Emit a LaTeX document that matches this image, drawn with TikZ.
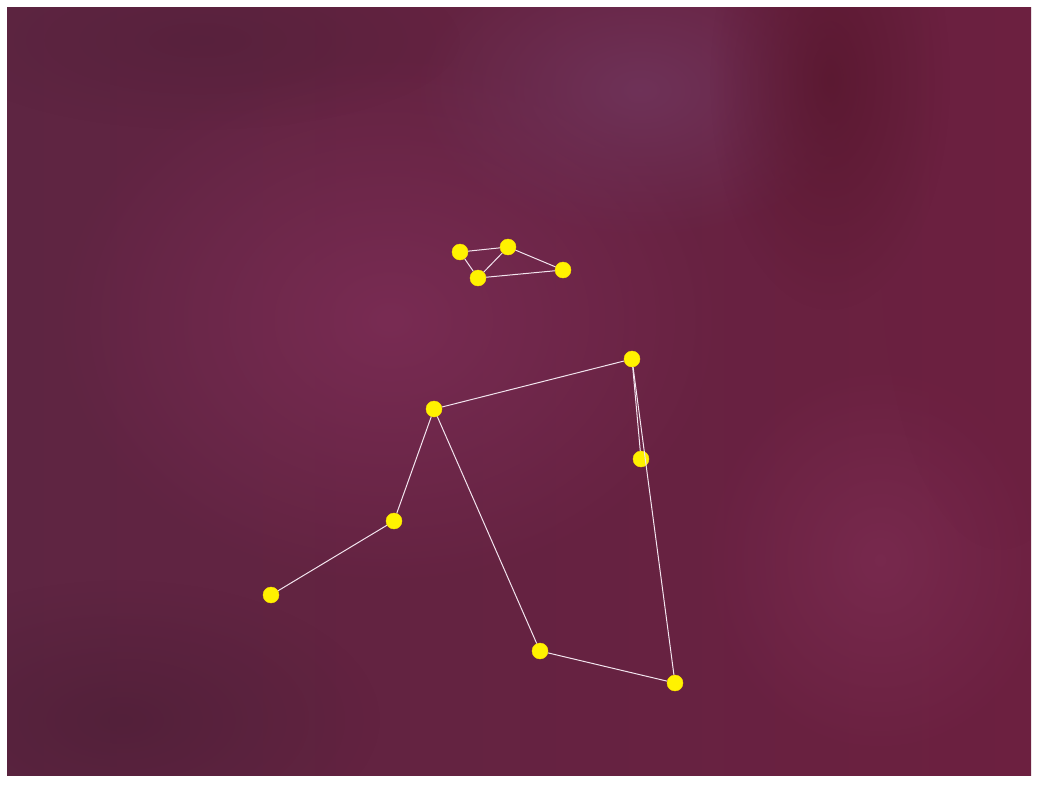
\documentclass[tikz,border=0pt]{standalone}
\usetikzlibrary{fadings}
\tikzfading[name=softblob, inner color=transparent!0, outer color=transparent!100]
\definecolor{bgA}{HTML}{5E2542}
\definecolor{bgB}{HTML}{7A2C54}
\definecolor{bgC}{HTML}{5A1830}
\definecolor{bgD}{HTML}{7C2C52}
\definecolor{bgE}{HTML}{70355C}
\definecolor{bgR}{HTML}{6C2040}
\definecolor{dotY}{HTML}{FFF200}
\definecolor{lineW}{HTML}{F2E4EE}
\tikzset{
  dot/.style={circle,fill=dotY,draw=dotY!85!orange,line width=0.4pt,minimum size=16pt,inner sep=0pt},
  link/.style={draw=lineW,line width=1pt},
  blob/.style={path fading=softblob}
}
\begin{document}
\begin{tikzpicture}[x=1pt,y=-1pt]
\useasboundingbox (0,0) rectangle (1063,785);
\fill[white] (0,0) rectangle (1063,785);
% background
\begin{scope}
\clip (7,7) rectangle (1031,775);
\shade[left color=bgA,right color=bgR] (7,7) rectangle (1031,775);
\fill[bgB,blob,opacity=0.95] (390,320) ellipse (340 and 270);
\fill[bgE,blob,opacity=0.85] (640,90) ellipse (230 and 150);
\fill[bgC,blob,opacity=0.9] (830,80) ellipse (120 and 230);
\fill[bgD,blob,opacity=0.75] (880,560) ellipse (180 and 200);
\fill[bgA!80!black,blob,opacity=0.6] (120,720) ellipse (260 and 140);
\fill[bgA!85!black,blob,opacity=0.5] (200,40) ellipse (260 and 90);
\fill[bgR,blob,opacity=0.7] (1000,250) ellipse (120 and 300);
\end{scope}
% dots
\node[dot] (a) at (460,252) {};
\node[dot] (b) at (508,247) {};
\node[dot] (c) at (478,278) {};
\node[dot] (d) at (563,270) {};
\node[dot] (e) at (632,359) {};
\node[dot] (f) at (434,409) {};
\node[dot] (g) at (641,459) {};
\node[dot] (h) at (394,521) {};
\node[dot] (i) at (271,595) {};
\node[dot] (j) at (540,651) {};
\node[dot] (k) at (675,683) {};
% links
\path[link] (a) -- (b);
\path[link] (a) -- (c);
\path[link] (b) -- (c);
\path[link] (b) -- (d);
\path[link] (c) -- (d);
\path[link] (f) -- (e);
\path[link] (e) -- (g);
\path[link] (e) -- (k);
\path[link] (f) -- (h);
\path[link] (h) -- (i);
\path[link] (f) -- (j);
\path[link] (j) -- (k);
\end{tikzpicture}
\end{document}
